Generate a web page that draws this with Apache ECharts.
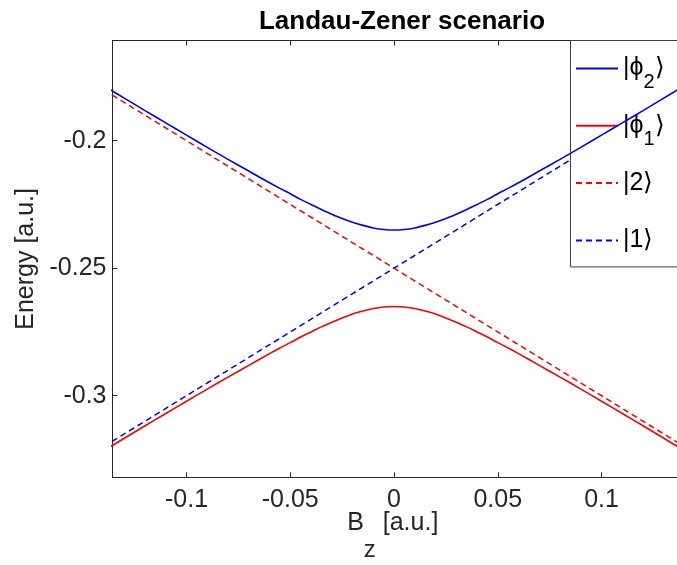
<!DOCTYPE html>
<html>
<head>
<meta charset="utf-8">
<script src="https://cdn.jsdelivr.net/npm/echarts@6/dist/echarts.min.js"></script>
<style>
  html, body { margin: 0; padding: 0; background: #fff; }
  #chart { width: 677px; height: 565px; }
</style>
</head>
<body>
<div id="chart"></div>
<script>
// Magnetic field sweep (a.u.) and the adiabatic energies of the two-level system
const bz = [-0.14, -0.13, -0.12, -0.11, -0.10, -0.09, -0.08, -0.07, -0.06, -0.055,
            -0.05, -0.045, -0.04, -0.035, -0.03, -0.025, -0.02, -0.015, -0.01, -0.005,
            0, 0.005, 0.01, 0.015, 0.02, 0.025, 0.03, 0.035, 0.04, 0.045, 0.05,
            0.055, 0.06, 0.07, 0.08, 0.09, 0.10, 0.11, 0.12, 0.13, 0.14];
const phi2 = [-0.1784, -0.1833, -0.1882, -0.1930, -0.1978, -0.2026, -0.2073, -0.2119, -0.2165, -0.2187,
              -0.2208, -0.2230, -0.2250, -0.2270, -0.2288, -0.2305, -0.2320, -0.2332, -0.2342, -0.2348,
              -0.2350, -0.2348, -0.2342, -0.2332, -0.2320, -0.2305, -0.2288, -0.2270, -0.2250, -0.2230, -0.2208,
              -0.2187, -0.2165, -0.2119, -0.2073, -0.2026, -0.1978, -0.1930, -0.1882, -0.1833, -0.1784];
const phi1 = [-0.3216, -0.3167, -0.3118, -0.3070, -0.3022, -0.2974, -0.2927, -0.2881, -0.2835, -0.2813,
              -0.2792, -0.2770, -0.2750, -0.2730, -0.2712, -0.2695, -0.2680, -0.2668, -0.2658, -0.2652,
              -0.2650, -0.2652, -0.2658, -0.2668, -0.2680, -0.2695, -0.2712, -0.2730, -0.2750, -0.2770, -0.2792,
              -0.2813, -0.2835, -0.2881, -0.2927, -0.2974, -0.3022, -0.3070, -0.3118, -0.3167, -0.3216];

// Diabatic (uncoupled) states: straight lines crossing at Bz = 0
const bzDiabatic = [-0.14, 0, 0.14];
const state2 = [-0.18, -0.25, -0.32];
const state1 = [-0.32, -0.25, -0.18];

// Tick labels
const xTicks = [-0.1, -0.05, 0, 0.05, 0.1];
const yTicks = [-0.3, -0.25, -0.2];

const seriesNames = ['phi2', 'phi1', 'ket2', 'ket1'];

const FONT = 'Liberation Sans, Arial, Helvetica, sans-serif';
const AXIS_COLOR = '#262626';
const BLUE = '#0000ff';
const RED = '#ff0000';

const pairs = (xs, ys) => xs.map((x, i) => [x, ys[i]]);

function tickFormatter(list) {
  return function (v) {
    const hit = list.find(t => Math.abs(t - v) < 1e-9);
    return hit === undefined ? '' : String(hit);
  };
}

// Legend entries: ket notation with subscripted state index
const legendText = {
  phi2: '{m||\u03d5}{s|2}{m|\u27e9}',
  phi1: '{m||\u03d5}{s|1}{m|\u27e9}',
  ket2: '{m||2\u27e9}{s| }',
  ket1: '{m||1\u27e9}{s| }'
};

const axisLine = { show: true, onZero: false, lineStyle: { color: AXIS_COLOR, width: 1 } };
const axisTick = { show: true, inside: true, length: 5, lineStyle: { color: AXIS_COLOR, width: 1 } };

// The plot box runs past the right edge of the canvas (legend sits inside it)
const X_MIN = -0.13566, X_MAX = 0.15084;
const Y_MIN = -0.3320, Y_MAX = -0.1607;

const chart = echarts.init(document.getElementById('chart'), null, { renderer: 'canvas' });

chart.setOption({
  animation: false,
  backgroundColor: '#ffffff',
  title: {
    text: 'Landau-Zener scenario',
    left: 397,
    top: 4,
    textAlign: 'center',
    textStyle: { fontFamily: FONT, fontSize: 26, fontWeight: 'bold', color: '#000' }
  },
  grid: { left: 112.5, right: -30, top: 40.5, bottom: 87.7, containLabel: false, outerBoundsMode: 'none' },
  xAxis: [{
    type: 'value', min: X_MIN, max: X_MAX, splitNumber: 6, position: 'bottom',
    axisLine, axisTick,
    splitLine: { show: false },
    axisLabel: { formatter: tickFormatter(xTicks), fontFamily: FONT, fontSize: 25, color: AXIS_COLOR, margin: 10 },
    name: '{m|B}{s|z}{m| [a.u.]}',
    nameLocation: 'middle',
    nameGap: 6.5,
    nameMoveOverlap: false,
    nameTextStyle: {
      fontFamily: FONT, fontSize: 25, color: AXIS_COLOR,
      padding: [0, 34, 0, 0],
      rich: {
        m: { fontFamily: FONT, fontSize: 25, color: AXIS_COLOR, lineHeight: 79 },
        s: { fontFamily: FONT, fontSize: 24, color: AXIS_COLOR, lineHeight: 25, padding: [54, 0, 0, 0] }
      }
    }
  }, {
    type: 'value', min: X_MIN, max: X_MAX, splitNumber: 6, position: 'top',
    axisLine, axisTick, splitLine: { show: false }, axisLabel: { show: false }
  }],
  yAxis: [{
    type: 'value', min: Y_MIN, max: Y_MAX, splitNumber: 3, position: 'left',
    axisLine, axisTick,
    splitLine: { show: false },
    axisLabel: { formatter: tickFormatter(yTicks), fontFamily: FONT, fontSize: 25, color: AXIS_COLOR, margin: 6 },
    name: 'Energy [a.u.]',
    nameLocation: 'middle',
    nameGap: 74,
    nameMoveOverlap: false,
    nameTextStyle: { fontFamily: FONT, fontSize: 25, color: AXIS_COLOR }
  }],
  legend: {
    orient: 'vertical',
    left: 570.5,
    top: 40.5,
    data: seriesNames,
    itemWidth: 42,
    itemHeight: 14,
    itemGap: 9.3,
    padding: [4, 40, 2.5, 4.5],
    backgroundColor: '#ffffff',
    borderColor: '#404040',
    borderWidth: 1,
    borderRadius: 0,
    selectedMode: false,
    itemStyle: { opacity: 0, borderWidth: 0 },
    formatter: name => legendText[name],
    textStyle: {
      fontFamily: FONT, fontSize: 25, color: '#000',
      rich: {
        m: { fontFamily: FONT, fontSize: 25, color: '#000', lineHeight: 47 },
        s: { fontFamily: FONT, fontSize: 20, color: '#000', lineHeight: 20, padding: [28, 0, 0, 0] }
      }
    }
  },
  series: [
    {
      name: 'phi2', type: 'line', data: pairs(bz, phi2), symbol: 'none', smooth: 0.3,
      lineStyle: { color: BLUE, width: 1.6 }, itemStyle: { color: BLUE }, z: 4
    },
    {
      name: 'phi1', type: 'line', data: pairs(bz, phi1), symbol: 'none', smooth: 0.3,
      lineStyle: { color: RED, width: 1.6 }, itemStyle: { color: RED }, z: 4
    },
    {
      name: 'ket2', type: 'line', data: pairs(bzDiabatic, state2), symbol: 'none',
      lineStyle: { color: RED, width: 1.5, type: [6, 4] }, itemStyle: { color: RED }, z: 3
    },
    {
      name: 'ket1', type: 'line', data: pairs(bzDiabatic, state1), symbol: 'none',
      lineStyle: { color: BLUE, width: 1.5, type: [6, 4] }, itemStyle: { color: BLUE }, z: 3
    }
  ]
});
</script>
</body>
</html>
